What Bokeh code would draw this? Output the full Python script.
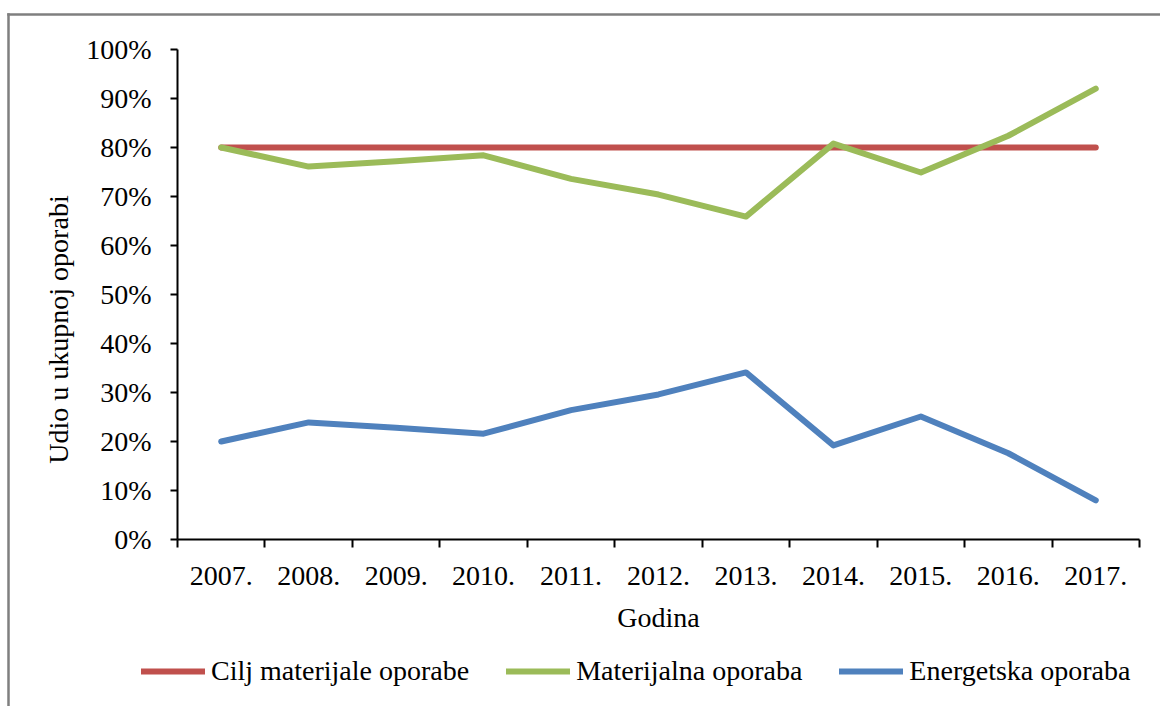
from bokeh.plotting import figure
from bokeh.models import Range1d, FixedTicker, Legend, LegendItem, Label, BoxAnnotation
from bokeh.embed import file_html
from bokeh.resources import INLINE

# ---- data ----
years = ["2007.", "2008.", "2009.", "2010.", "2011.", "2012.",
         "2013.", "2014.", "2015.", "2016.", "2017."]
cilj = [80, 80, 80, 80, 80, 80, 80, 80, 80, 80, 80]
materijalna = [80.0, 76.1, 77.2, 78.4, 73.6, 70.4, 65.9, 80.8, 74.9, 82.4, 92.0]
energetska = [20.0, 23.9, 22.8, 21.6, 26.4, 29.6, 34.1, 19.2, 25.1, 17.6, 8.0]
y_ticks = [0, 10, 20, 30, 40, 50, 60, 70, 80, 90, 100]
y_tick_labels = ["0%", "10%", "20%", "30%", "40%", "50%", "60%", "70%", "80%", "90%", "100%"]
series_names = ["Cilj materijale oporabe", "Materijalna oporaba", "Energetska oporaba"]
y_title = "Udio u ukupnoj oporabi"
x_title = "Godina"

FONT = "Liberation Serif"
RED = "#C0504D"
GREEN = "#9BBB59"
BLUE = "#4F81BD"
BORDER = "#7f7f7f"

# ---- layout (canvas pixels) ----
W, H = 1160, 706
AX_L, AX_R, AX_T, AX_B = 177, 1139, 49, 539   # plot area edges
n = len(years)
y_max = 100
px_x = (AX_R - AX_L) / n
px_y = (AX_B - AX_T) / y_max


def dx(px):
    return (px - AX_L) / px_x


def dy(py):
    return (AX_B - py) / px_y


x_centers = [i + 0.5 for i in range(n)]
x_bounds = [i for i in range(n + 1)]

p = figure(width=W, height=H, output_backend="svg", toolbar_location=None,
           x_range=Range1d(dx(0), dx(W)), y_range=Range1d(dy(H), dy(0)),
           min_border=0)
p.outline_line_color = None
p.grid.visible = False
p.background_fill_color = "white"
p.border_fill_color = "white"

# axes (drawn at fixed data locations)
xa = p.xaxis[0]
xa.fixed_location = 0
xa.bounds = (0, n)
xa.ticker = FixedTicker(ticks=x_centers, minor_ticks=x_bounds)
xa.major_label_overrides = {x: lab for x, lab in zip(x_centers, years)}
xa.major_tick_out = 0
xa.major_tick_in = 0
xa.minor_tick_out = 8
xa.minor_tick_in = 0
xa.minor_tick_line_width = 2
xa.minor_tick_line_color = "black"
xa.axis_line_width = 2
xa.axis_line_color = "black"
xa.major_label_text_font = FONT
xa.major_label_text_font_size = "28px"
xa.major_label_text_color = "black"
xa.major_label_standoff = 19
xa.axis_label = x_title
xa.axis_label_text_font = FONT
xa.axis_label_text_font_size = "28px"
xa.axis_label_text_font_style = "normal"
xa.axis_label_text_color = "black"
xa.axis_label_standoff = 14

ya = p.yaxis[0]
ya.fixed_location = 0
ya.bounds = (0, y_max)
ya.ticker = FixedTicker(ticks=y_ticks, minor_ticks=[])
ya.major_label_overrides = {t: lab for t, lab in zip(y_ticks, y_tick_labels)}
ya.major_tick_out = 7
ya.major_tick_in = 0
ya.major_tick_line_width = 2
ya.major_tick_line_color = "black"
ya.axis_line_width = 2
ya.axis_line_color = "black"
ya.major_label_text_font = FONT
ya.major_label_text_font_size = "28px"
ya.major_label_text_color = "black"
ya.major_label_standoff = 19

# lines
r_red = p.line(x_centers, cilj, line_color=RED, line_width=6,
               line_cap="round", line_join="round")
r_green = p.line(x_centers, materijalna, line_color=GREEN, line_width=6,
                 line_cap="round", line_join="round")
r_blue = p.line(x_centers, energetska, line_color=BLUE, line_width=6,
                line_cap="round", line_join="round")

legend = Legend(items=[LegendItem(label=series_names[0], renderers=[r_red]),
                       LegendItem(label=series_names[1], renderers=[r_green]),
                       LegendItem(label=series_names[2], renderers=[r_blue])],
                orientation="horizontal", location=(141, H - 687),
                glyph_width=64, glyph_height=30, label_height=30,
                label_standoff=6, spacing=37, padding=0, margin=0,
                border_line_color=None, background_fill_alpha=0,
                label_text_font=FONT, label_text_font_size="28px",
                label_text_color="black")
p.add_layout(legend, "center")

# rotated y title
p.add_layout(Label(x=dx(58), y=dy(329), text=y_title,
                   angle=1.5707963, text_align="center", text_baseline="middle",
                   text_font=FONT, text_font_size="28px", text_color="black"))

# outer chart border: only its top and left edges fall inside the picture
p.add_layout(BoxAnnotation(left=dx(6.75), top=dy(12.75), bottom=dy(15.25),
                           fill_color=BORDER, fill_alpha=1.0, line_alpha=0))
p.add_layout(BoxAnnotation(left=dx(6.75), right=dx(9.25), top=dy(12.75),
                           fill_color=BORDER, fill_alpha=1.0, line_alpha=0))

open("out.html", "w").write(file_html(p, INLINE))
